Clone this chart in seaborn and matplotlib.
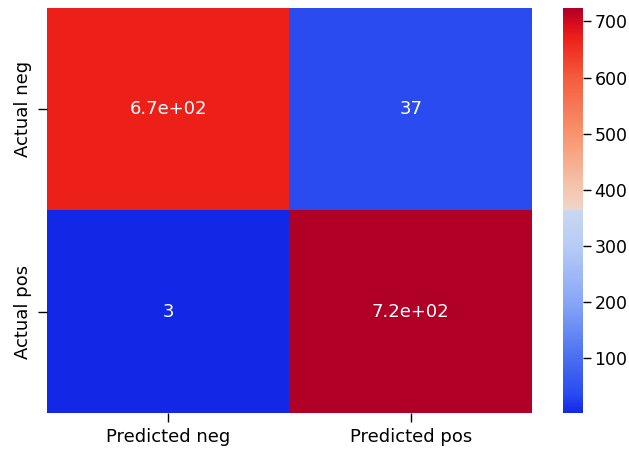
import numpy as np
import pandas as pd
import matplotlib
matplotlib.use("Agg")
import matplotlib.pyplot as plt
from matplotlib.colors import LinearSegmentedColormap
import seaborn as sns

# Confusion matrix counts
row_labels = ["Actual neg", "Actual pos"]
col_labels = ["Predicted neg", "Predicted pos"]
true_neg_row = [671, 37]
true_pos_row = [3, 724]

# Vivid cool-warm ramp: blue half and red half meet with a hard step at the centre
cmap_stops = [
    (0.000, "#1228e6"),
    (0.047, "#2a4bf0"),
    (0.135, "#4a6ef2"),
    (0.273, "#88a6f8"),
    (0.410, "#b6cbf6"),
    (0.4999, "#c9d8f0"),
    (0.5001, "#eed6c9"),
    (0.550, "#f4c7b1"),
    (0.689, "#f8946e"),
    (0.828, "#f45c3e"),
    (0.926, "#ee2119"),
    (0.965, "#d40b1e"),
    (1.000, "#b00026"),
]
cmap = LinearSegmentedColormap.from_list("vivid_coolwarm", cmap_stops, N=512)

cm = pd.DataFrame([true_neg_row, true_pos_row], index=row_labels, columns=col_labels)

fs = 13

fig = plt.figure(figsize=(6.29, 4.51), dpi=100)
ax = fig.add_axes([0.0747, 0.0843, 0.771, 0.898])
cax = fig.add_axes([0.895, 0.0843, 0.0318, 0.898])

sns.heatmap(cm, annot=True, cmap=cmap, ax=ax, cbar_ax=cax,
            annot_kws={"fontsize": fs})

ax.tick_params(axis="both", labelsize=fs, length=6.5, width=1.0, pad=4.5)
cax.tick_params(labelsize=12.5, length=6.0, width=1.0, pad=2.2)

fig.savefig("out.png", dpi=100)
